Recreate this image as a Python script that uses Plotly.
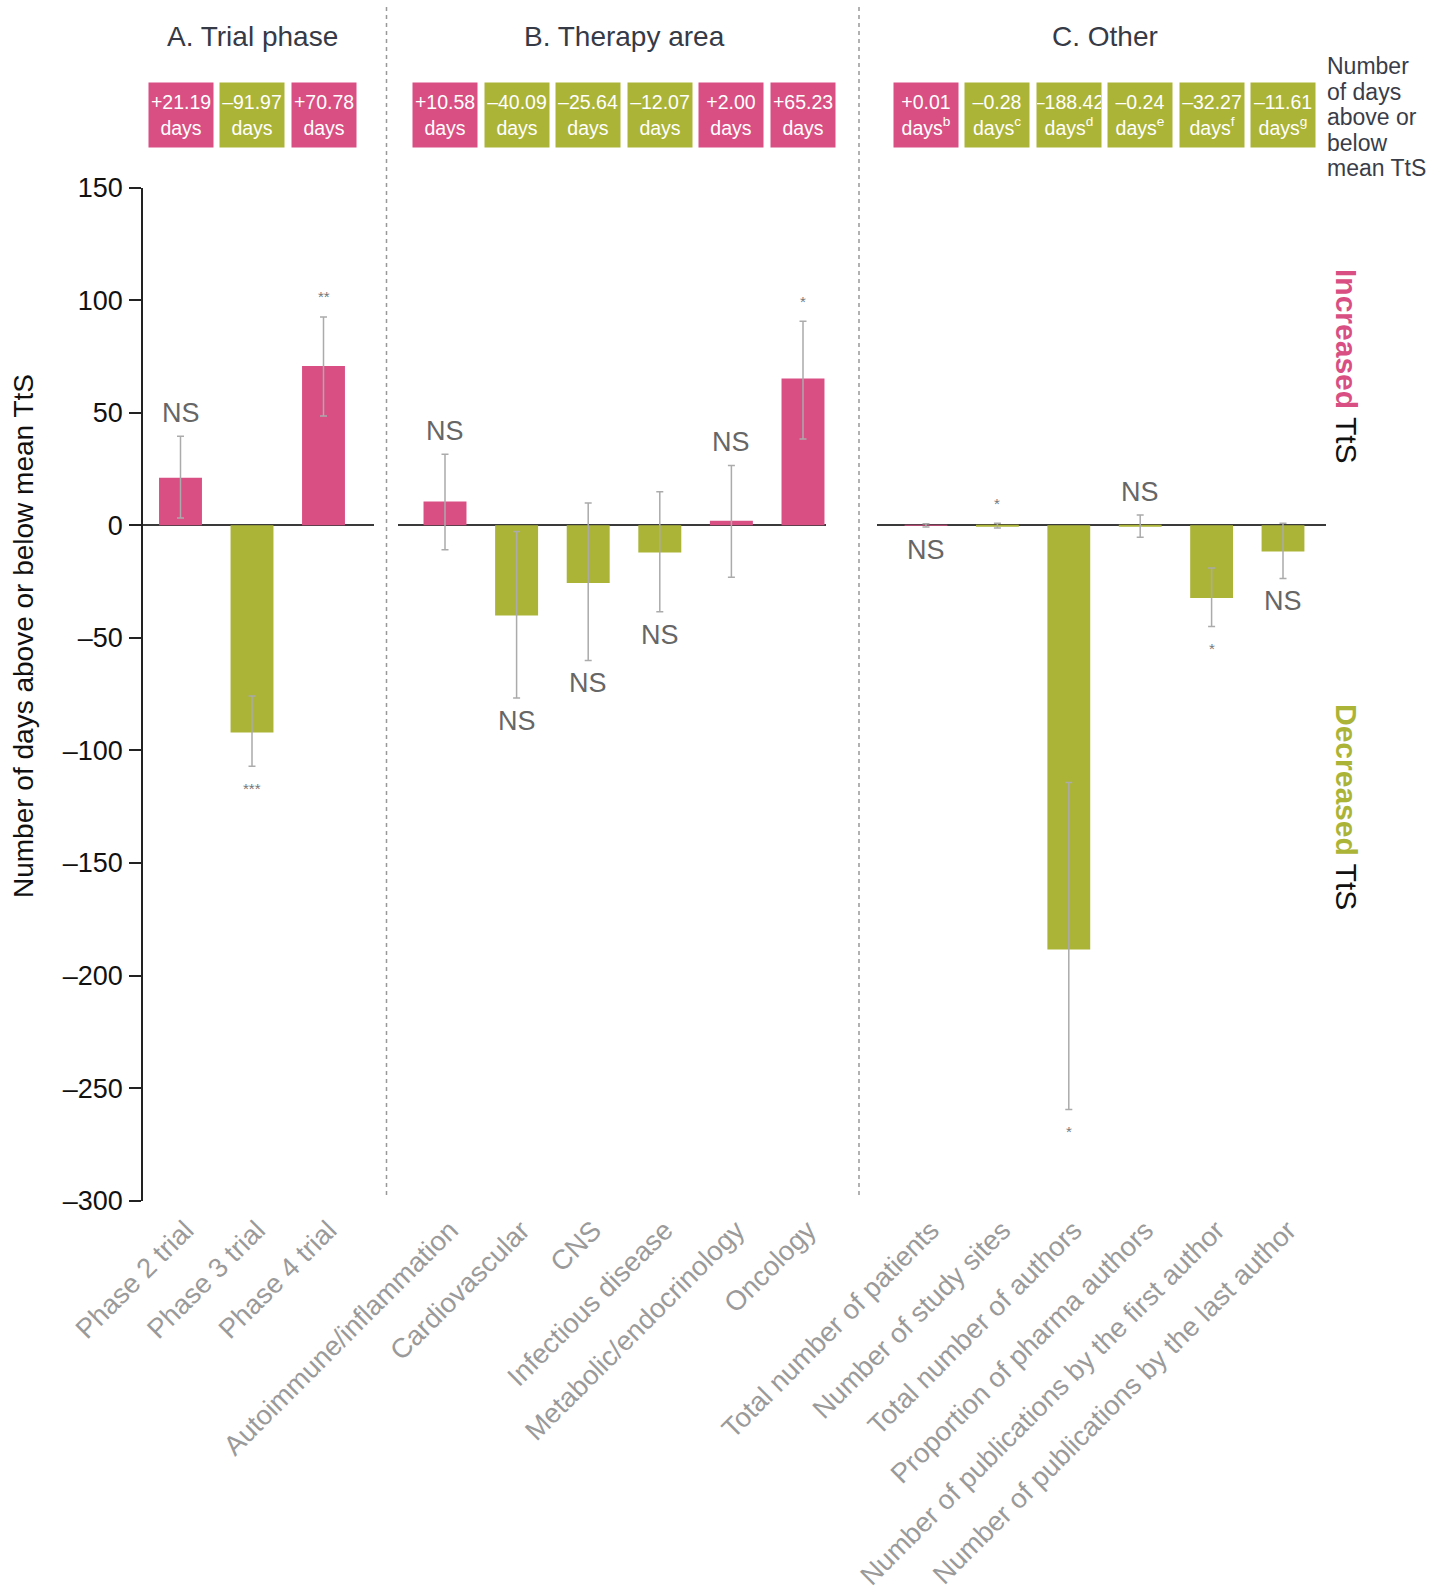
import plotly.graph_objects as go

W, H = 1444, 1593

# ---- A. Trial phase ----
phase_labels = ["Phase 2 trial", "Phase 3 trial", "Phase 4 trial"]
phase_days = [21.19, -91.97, 70.78]
phase_ci_low = [3.3, -107.0, 48.6]
phase_ci_high = [39.6, -75.8, 92.6]
phase_sig = ["NS", "***", "**"]
phase_sig_side = ["above", "below", "above"]
phase_notes = ["", "", ""]

# ---- B. Therapy area ----
area_labels = ["Autoimmune/inflammation", "Cardiovascular", "CNS",
               "Infectious disease", "Metabolic/endocrinology", "Oncology"]
area_days = [10.58, -40.09, -25.64, -12.07, 2.00, 65.23]
area_ci_low = [-10.8, -76.7, -60.0, -38.4, -23.0, 38.4]
area_ci_high = [31.6, -2.7, 9.9, 14.9, 26.6, 90.7]
area_sig = ["NS", "NS", "NS", "NS", "NS", "*"]
area_sig_side = ["above", "below", "below", "below", "above", "above"]
area_notes = ["", "", "", "", "", ""]

# ---- C. Other ----
other_labels = ["Total number of patients", "Number of study sites",
                "Total number of authors", "Proportion of pharma authors",
                "Number of publications by the first author",
                "Number of publications by the last author"]
other_days = [0.01, -0.28, -188.42, -0.24, -32.27, -11.61]
other_ci_low = [-0.7, -1.2, -259.5, -5.3, -44.9, -23.6]
other_ci_high = [0.7, 0.9, -114.2, 4.6, -18.9, 0.9]
other_sig = ["NS", "*", "*", "NS", "*", "NS"]
other_sig_side = ["below", "above", "below", "above", "below", "below"]
other_notes = ["b", "c", "d", "e", "f", "g"]

panel_titles = ["A. Trial phase", "B. Therapy area", "C. Other"]
key_lines = ["Number", "of days", "above or", "below", "mean TtS"]
y_ticks = [150, 100, 50, 0, -50, -100, -150, -200, -250, -300]

# ---- styling ----
PINK = "#D94F83"
OLIVE = "#ABB437"
FONT = "Liberation Sans, Arial, sans-serif"
TITLE_COL = "#363a46"

# pixel geometry of each panel: (left, right, first bar centre, bar step)
panel_geom = [(143, 374, 180.5, 71.5), (398, 826, 445.0, 71.6), (877, 1326, 926.0, 71.4)]
Y_TOP_PX, Y_BOT_PX = 187.7, 1200.7


def px_x(p):
    return p / W


def px_y(p):
    return 1 - p / H


def dash_num(v):
    s = f"{abs(v):.0f}" if float(v).is_integer() else f"{abs(v):.2f}"
    return ("\u2013" + s) if v < 0 else s


panels = [
    (phase_labels, phase_days, phase_ci_low, phase_ci_high, phase_sig, phase_sig_side, phase_notes),
    (area_labels, area_days, area_ci_low, area_ci_high, area_sig, area_sig_side, area_notes),
    (other_labels, other_days, other_ci_low, other_ci_high, other_sig, other_sig_side, other_notes),
]

fig = go.Figure()
annotations = []
layout_axes = {}

for k, (labels, days, lo, hi, sig, side, notes) in enumerate(panels):
    n = k + 1
    xa = "x" if n == 1 else f"x{n}"
    ya = "y" if n == 1 else f"y{n}"
    left, right, c0, step = panel_geom[k]
    idx = list(range(len(labels)))

    fig.add_trace(go.Bar(
        x=idx, y=days, xaxis=xa, yaxis=ya,
        width=0.6,
        marker=dict(color=[PINK if v > 0 else OLIVE for v in days], line=dict(width=0)),
        error_y=dict(type="data", symmetric=False,
                     array=[h - v for h, v in zip(hi, days)],
                     arrayminus=[v - l for v, l in zip(days, lo)],
                     color="#ababab", thickness=1.5, width=3.5),
        showlegend=False, hoverinfo="skip",
    ))

    layout_axes["xaxis" if n == 1 else f"xaxis{n}"] = dict(
        domain=[px_x(left), px_x(right)],
        range=[(left - c0) / step, (right - c0) / step],
        anchor=ya, tickmode="array", tickvals=idx, ticktext=labels,
        tickangle=-45, tickfont=dict(size=27.5, color="#9a9a9a", family=FONT),
        showline=False, showgrid=False, zeroline=False, ticks="",
        ticklabelstandoff=7, ticklabelshift=5, automargin=False,
    )
    yax = dict(
        domain=[px_y(Y_BOT_PX), px_y(Y_TOP_PX)], range=[-300, 150],
        anchor=xa, showgrid=False, automargin=False,
        zeroline=True, zerolinecolor="#3a3a3a", zerolinewidth=1.5,
    )
    if n == 1:
        yax.update(showline=True, linecolor="#222", linewidth=1.5,
                   ticks="outside", ticklen=12, tickwidth=1.5, tickcolor="#222",
                   tickmode="array", tickvals=y_ticks,
                   ticktext=[dash_num(v) for v in y_ticks],
                   tickfont=dict(size=27, color="#111", family=FONT),
                   ticklabelstandoff=1)
    else:
        yax.update(matches="y", showline=False, showticklabels=False, ticks="")
    layout_axes["yaxis" if n == 1 else f"yaxis{n}"] = yax

    # panel heading
    annotations.append(dict(
        xref=xa, yref="paper", x=(len(labels) - 1) / 2, y=px_y(36.5),
        text=panel_titles[k], showarrow=False, xanchor="center", yanchor="middle",
        font=dict(size=28, color=TITLE_COL, family=FONT)))

    for i, v in enumerate(days):
        sign = "+" if v >= 0 else "\u2013"
        note = f"<sup>{notes[i]}</sup>" if notes[i] else ""
        # coloured value box above each bar
        annotations.append(dict(
            xref=xa, yref="paper", x=i, y=px_y(115),
            text=f"{sign}{abs(v):.2f}<br>days{note}", showarrow=False,
            xanchor="center", yanchor="middle", width=64, height=64,
            bgcolor=PINK if v > 0 else OLIVE, borderpad=0,
            font=dict(size=19.5, color="white", family=FONT)))

        # significance marker at the end of the error bar
        is_star = sig[i].startswith("*")
        if side[i] == "above":
            yv, shift = hi[i], (20 if is_star else 23)
        else:
            yv, shift = lo[i], (-22 if is_star else -23)
        annotations.append(dict(
            xref=xa, yref=ya, x=i, y=yv, yshift=shift,
            text=sig[i], showarrow=False, xanchor="center", yanchor="middle",
            font=dict(size=15 if is_star else 27,
                      color="#777" if is_star else "#666", family=FONT)))

# y-axis title
annotations.append(dict(
    xref="paper", yref="paper", x=px_x(24), y=px_y(636),
    text="Number of days above or below mean TtS", textangle=-90,
    showarrow=False, xanchor="center", yanchor="middle",
    font=dict(size=28, color="#111", family=FONT)))

# key for the value boxes, one line at a time for tight leading
for j, line in enumerate(key_lines):
    annotations.append(dict(
        xref="paper", yref="paper", x=px_x(1325), y=px_y(66.5 + 25.4 * j),
        text=line, align="left",
        showarrow=False, xanchor="left", yanchor="middle",
        font=dict(size=23, color="#3a3d48", family=FONT)))

# direction labels
annotations.append(dict(
    xref="paper", yref="paper", x=px_x(1346), y=px_y(366),
    text=f"<span style='color:{PINK}'><b>Increased</b></span> TtS", textangle=90,
    showarrow=False, xanchor="center", yanchor="middle",
    font=dict(size=30, color="#111", family=FONT)))
annotations.append(dict(
    xref="paper", yref="paper", x=px_x(1346), y=px_y(807),
    text=f"<span style='color:{OLIVE}'><b>Decreased</b></span> TtS", textangle=90,
    showarrow=False, xanchor="center", yanchor="middle",
    font=dict(size=30, color="#111", family=FONT)))

# dashed separators between panels
shapes = []
for xp in (386.5, 859):
    shapes.append(dict(type="line", xref="paper", yref="paper",
                       x0=px_x(xp), x1=px_x(xp), y0=px_y(7), y1=px_y(1199),
                       line=dict(color="#999", width=1.5, dash="4px,4px")))

fig.update_layout(
    width=W, height=H,
    margin=dict(l=0, r=0, t=0, b=0, autoexpand=False),
    paper_bgcolor="white", plot_bgcolor="white",
    font=dict(family=FONT),
    bargap=0.4,
    annotations=annotations,
    shapes=shapes,
    **layout_axes,
)

fig.write_html("out.html")
